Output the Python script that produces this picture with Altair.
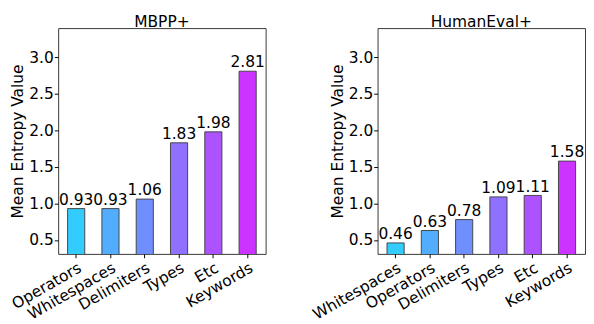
import altair as alt
import pandas as pd

mbpp_cats = ["Operators", "Whitespaces", "Delimiters", "Types", "Etc", "Keywords"]
mbpp_vals = [0.93, 0.93, 1.06, 1.83, 1.98, 2.81]
he_cats = ["Whitespaces", "Operators", "Delimiters", "Types", "Etc", "Keywords"]
he_vals = [0.46, 0.63, 0.78, 1.09, 1.11, 1.58]
bar_colors = ["#33ccff", "#52adff", "#708fff", "#8f70ff", "#ad52ff", "#cc33ff"]
y_ticks = [0.5, 1.0, 1.5, 2.0, 2.5, 3.0]

FONT = "DejaVu Sans"
FS = 16


def panel(cats, vals, title):
    df = pd.DataFrame({"cat": cats, "val": vals})
    x = alt.X(
        "cat:N",
        sort=cats,
        scale=alt.Scale(paddingInner=0.5, paddingOuter=0.275),
        axis=alt.Axis(title=None, labelAngle=-30, labelFontSize=FS, tickSize=4,
                      labelPadding=2, labelFont=FONT, labelColor="black",
                      domain=False, tickColor="black"),
    )
    y = alt.Y(
        "val:Q",
        scale=alt.Scale(domain=[0.31, 3.4], zero=False, nice=False),
        axis=alt.Axis(values=y_ticks, format=".1f", title="Mean Entropy Value",
                      titleFontSize=FS, titleFontWeight="normal", titleFont=FONT,
                      titleColor="black", labelFontSize=FS, labelFont=FONT,
                      labelColor="black", tickSize=4, labelPadding=1, grid=False,
                      domain=False, titlePadding=3, tickColor="black"),
    )
    bars = alt.Chart(df).mark_bar(clip=True, stroke="#444444", strokeWidth=1).encode(
        x=x,
        y=y,
        color=alt.Color("cat:N", scale=alt.Scale(domain=cats, range=bar_colors), legend=None),
    )
    text = alt.Chart(df).mark_text(baseline="bottom", dy=-1, fontSize=FS, font=FONT,
                                   color="black").encode(
        x=alt.X("cat:N", sort=cats),
        y=alt.Y("val:Q"),
        text=alt.Text("val:Q", format=".2f"),
    )
    return alt.layer(bars, text).properties(
        width=215, height=234,
        title=alt.TitleParams(title, fontSize=FS, fontWeight="normal", font=FONT,
                              color="black", offset=-2),
    )


chart = alt.hconcat(
    panel(mbpp_cats, mbpp_vals, "MBPP+"),
    panel(he_cats, he_vals, "HumanEval+"),
    spacing=44,
).resolve_scale(color="independent", x="independent").properties(
    padding={"left": 0, "top": 0, "right": 0, "bottom": 0}
).configure_view(stroke="#333333", strokeWidth=1)

chart.save("out.html", embed_options={"renderer": "svg", "actions": False})
